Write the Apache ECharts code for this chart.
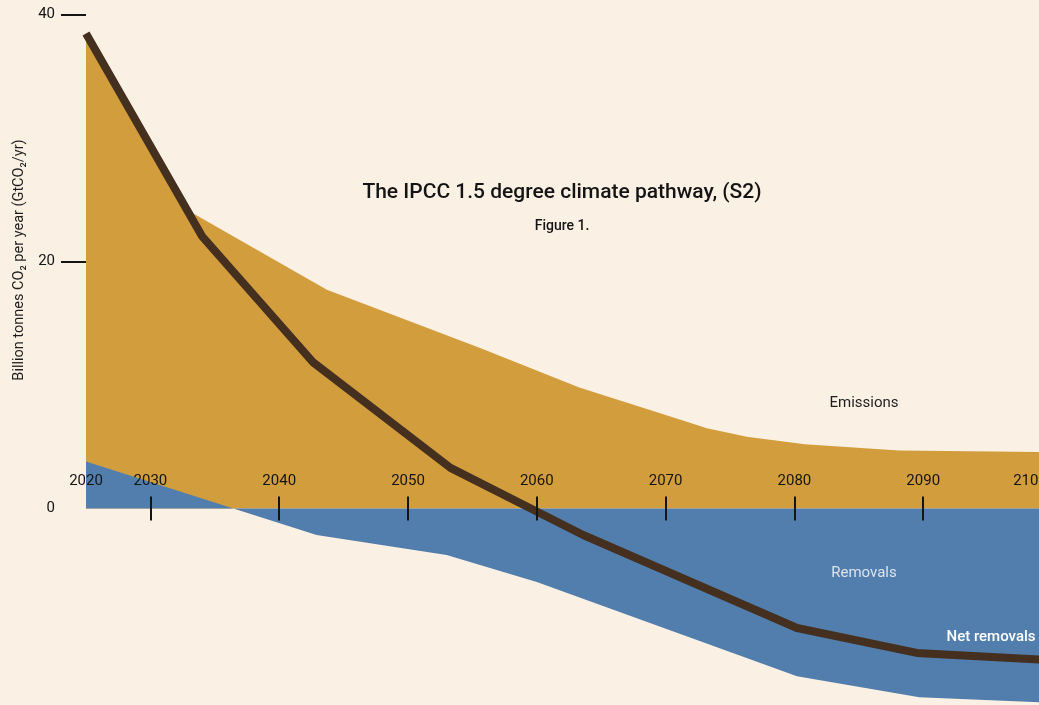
<!DOCTYPE html>
<html>
<head>
<meta charset="utf-8">
<script src="https://cdn.jsdelivr.net/npm/echarts@6/dist/echarts.min.js"></script>
<style>
html,body{margin:0;padding:0;background:#FAF0E4;}
#chart{width:1039px;height:705px;}
</style>
</head>
<body>
<div id="chart"></div>
<script>
// ---- data ----
const emissionsYears  = [2025, 2033.3, 2043.7, 2055.6, 2063.3, 2071.1, 2073.2, 2076.3, 2080.8, 2088.1, 2100];
const emissionsValues = [38.1, 23.9, 17.7, 13.0, 9.8, 7.2, 6.5, 5.8, 5.2, 4.7, 4.55];

const removalsYears  = [2025, 2042.9, 2053.0, 2060.0, 2080.2, 2089.7, 2100];
const removalsValues = [3.8, -2.15, -3.77, -5.95, -13.6, -15.3, -15.75];

const netYears  = [2025, 2034.0, 2042.6, 2053.3, 2063.6, 2080.2, 2089.5, 2100];
const netValues = [38.46, 22.06, 11.86, 3.28, -2.15, -9.68, -11.7, -12.3];

const xLabelValues = [2025, 2030, 2040, 2050, 2060, 2070, 2080, 2090, 2100];
const xLabelTexts  = ['2020', '2030', '2040', '2050', '2060', '2070', '2080', '2090', '2100'];
const xTickValues  = [2030, 2040, 2050, 2060, 2070, 2080, 2090, 2100];

const yLabelValues = [0, 20, 40];
const yTickValues  = [20, 40];

const titleText = 'The IPCC 1.5 degree climate pathway, (S2)';
const subtitleText = 'Figure 1.';
const yAxisTitle = 'Billion tonnes CO\u2082 per year (GtCO\u2082/yr)';

// ---- chart ----
const FONT = 'Roboto, "Noto Sans", sans-serif';
const pairs = (xs, ys) => xs.map((x, i) => [x, ys[i]]);

const W = 1039, H = 705;
const GRID = {left: 86, right: -13, top: 14.5, bottom: -1};
const Y_MIN = -16, Y_MAX = 40;
const TICK_HALF = 12;
const plotH = H - GRID.top - GRID.bottom;
const zeroFromTop = plotH * (Y_MAX - 0) / (Y_MAX - Y_MIN);

const chart = echarts.init(document.getElementById('chart'), null, {renderer: 'canvas'});

const tickStyle = {color: '#141414', width: 2};

chart.setOption({
  backgroundColor: '#FAF0E4',
  animation: false,
  grid: Object.assign({containLabel: false, outerBoundsMode: 'none'}, GRID),
  xAxis: [
    {
      // axis line sits just below zero; ticks cross the zero line, labels above it
      type: 'value', min: 2025, max: 2100, position: 'top',
      offset: -(zeroFromTop + TICK_HALF), z: 10,
      axisLine: {show: false, onZero: false},
      splitLine: {show: false},
      axisTick: {show: true, length: TICK_HALF * 2, customValues: xTickValues, lineStyle: tickStyle},
      axisLabel: {
        show: true, margin: 20 + TICK_HALF,
        customValues: xLabelValues,
        fontFamily: FONT, fontSize: 15, color: '#151515',
        formatter: function (v) {
          const i = xLabelValues.indexOf(v);
          const t = i >= 0 ? xLabelTexts[i] : String(v);
          return v === 2100 ? '{edge|' + t + '}' : t;
        },
        rich: {edge: {fontFamily: FONT, fontSize: 15, color: '#151515', padding: [0, 44, 0, 0]}}
      }
    }
  ],
  yAxis: {
    type: 'value', min: Y_MIN, max: Y_MAX, z: 10,
    axisLine: {show: false},
    splitLine: {show: false},
    axisTick: {show: true, length: 25, customValues: yTickValues, lineStyle: tickStyle},
    axisLabel: {customValues: yLabelValues, margin: 31, fontFamily: FONT, fontSize: 15, color: '#151515'}
  },
  series: [
    {
      name: 'Emissions', type: 'line',
      data: pairs(emissionsYears, emissionsValues),
      symbol: 'none', lineStyle: {width: 0},
      areaStyle: {color: '#D29D3D', opacity: 1}, z: 2
    },
    {
      name: 'Removals', type: 'line',
      data: pairs(removalsYears, removalsValues),
      symbol: 'none', lineStyle: {width: 0},
      areaStyle: {color: '#527EAD', opacity: 1}, z: 3
    },
    {
      name: 'Net removals', type: 'line',
      data: pairs(netYears, netValues),
      symbol: 'none',
      lineStyle: {width: 8, color: '#45301F', join: 'round'}, z: 4
    }
  ],
  graphic: [
    {type: 'text', x: 562, y: 193, z: 100,
     style: {text: titleText, font: '500 21px ' + FONT, fill: '#141414', align: 'center', verticalAlign: 'middle'}},
    {type: 'text', x: 562, y: 226, z: 100,
     style: {text: subtitleText, font: '500 14px ' + FONT, fill: '#141414', align: 'center', verticalAlign: 'middle'}},
    {type: 'text', x: 864, y: 403, z: 100,
     style: {text: 'Emissions', font: '400 15px ' + FONT, fill: '#1e1e1e', align: 'center', verticalAlign: 'middle'}},
    {type: 'text', x: 864, y: 573, z: 100,
     style: {text: 'Removals', font: '400 15px ' + FONT, fill: '#DCE3EC', align: 'center', verticalAlign: 'middle'}},
    {type: 'text', x: 991, y: 637, z: 100,
     style: {text: 'Net removals', font: '500 15px ' + FONT, fill: '#ffffff', align: 'center', verticalAlign: 'middle'}},
    {type: 'text', x: 19, y: 260, z: 100, rotation: Math.PI / 2,
     style: {text: yAxisTitle, font: '400 14.5px ' + FONT, fill: '#1e1e1e', align: 'center', verticalAlign: 'middle'}}
  ]
});
</script>
</body>
</html>
